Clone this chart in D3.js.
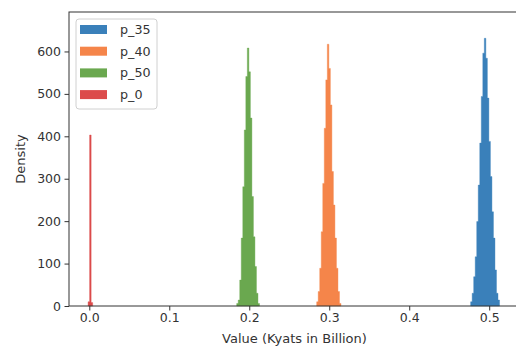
<!DOCTYPE html>
<html>
<head>
<meta charset="utf-8">
<script src="https://cdn.jsdelivr.net/npm/d3@7"></script>
<style>
  body { margin: 0; background: #fff; }
  svg { display: block; font-family: "DejaVu Sans", sans-serif; }
</style>
</head>
<body>
<div id="chart"></div>
<script>
// series names, in drawing order
var seriesNames = ["p_35", "p_40", "p_50", "p_0"];
var seriesColors = ["#3a80ba", "#f5854a", "#6aa84f", "#dc4b4b"];

// histogram bins: left edge of first bin, shared bin width, density per bin
var binWidth = 0.0019;
var p35Start = 0.4768;
var p35Density = [10, 30, 69, 116, 199, 285, 384, 494, 596, 631, 584, 490, 388, 305, 222, 160, 85, 30, 14];
var p40Start = 0.2843;
var p40Density = [10, 34, 89, 175, 289, 419, 533, 617, 560, 474, 317, 238, 160, 89, 34, 6];
var p50Start = 0.1843;
var p50Density = [6, 14, 61, 160, 281, 415, 541, 608, 552, 443, 258, 163, 93, 30, 6];
var p0Start = -0.0015;
var p0Density = [10, 403, 8];

var xTicks = [0.0, 0.1, 0.2, 0.3, 0.4, 0.5];
var yTicks = [0, 100, 200, 300, 400, 500, 600];

var w = 516, h = 349;
// plot area (right spine falls just outside the window)
var pLeft = 69, pTop = 12, pRight = 520, pBottom = 306;

var xScale = d3.scaleLinear().domain([-0.02538, 0.5385]).range([pLeft, pRight]);
var yScale = d3.scaleLinear().domain([0, 693]).range([pBottom, pTop]);

var svg = d3.select("#chart").append("svg")
    .attr("width", w)
    .attr("height", h);

var series = [
    { name: seriesNames[0], color: seriesColors[0], start: p35Start, vals: p35Density },
    { name: seriesNames[1], color: seriesColors[1], start: p40Start, vals: p40Density },
    { name: seriesNames[2], color: seriesColors[2], start: p50Start, vals: p50Density },
    { name: seriesNames[3], color: seriesColors[3], start: p0Start, vals: p0Density }
];

// each histogram as one filled step outline (no seams between bins)
var area = d3.area()
    .curve(d3.curveStepAfter)
    .x(function(d) { return xScale(d.x); })
    .y0(yScale(0))
    .y1(function(d) { return yScale(d.v); });

series.forEach(function(s) {
    var pts = s.vals.map(function(v, i) {
        return { x: s.start + i * binWidth, v: v };
    });
    pts.push({ x: s.start + s.vals.length * binWidth, v: 0 });
    svg.append("path")
        .datum(pts)
        .attr("d", area)
        .style("fill", s.color)
        .style("stroke", s.color)
        .style("stroke-width", 0.4);
});

// axes
var xAxis = d3.axisBottom(xScale)
    .tickValues(xTicks)
    .tickFormat(d3.format(".1f"))
    .tickSizeInner(4.5)
    .tickSizeOuter(0)
    .tickPadding(3);

var yAxis = d3.axisLeft(yScale)
    .tickValues(yTicks)
    .tickFormat(d3.format("d"))
    .tickSizeInner(4.5)
    .tickSizeOuter(0)
    .tickPadding(3.5);

var gx = svg.append("g")
    .attr("transform", "translate(0," + pBottom + ")")
    .call(xAxis);
var gy = svg.append("g")
    .attr("transform", "translate(" + pLeft + ",0)")
    .call(yAxis);

[gx, gy].forEach(function(g) {
    g.select(".domain").remove();
    g.selectAll(".tick line").attr("stroke", "#333");
    g.selectAll(".tick text")
        .attr("fill", "#333")
        .style("font-size", "12.5px")
        .style("font-family", "DejaVu Sans, sans-serif");
});

// spines
svg.append("rect")
    .attr("x", pLeft)
    .attr("y", pTop)
    .attr("width", pRight - pLeft)
    .attr("height", pBottom - pTop)
    .attr("fill", "none")
    .attr("stroke", "#333")
    .attr("stroke-width", 1);

// axis labels
svg.append("text")
    .attr("x", (pLeft + pRight) / 2)
    .attr("y", 343)
    .attr("text-anchor", "middle")
    .attr("fill", "#333")
    .style("font-size", "13px")
    .text("Value (Kyats in Billion)");

svg.append("text")
    .attr("transform", "translate(25," + ((pTop + pBottom) / 2) + ") rotate(-90)")
    .attr("text-anchor", "middle")
    .attr("fill", "#333")
    .style("font-size", "13px")
    .text("Density");

// legend
var legend = svg.append("g");
legend.append("rect")
    .attr("x", 76)
    .attr("y", 19)
    .attr("width", 81)
    .attr("height", 90)
    .attr("rx", 3)
    .attr("fill", "#fff")
    .attr("fill-opacity", 0.8)
    .attr("stroke", "#d0d0d0");

var items = legend.selectAll("g.item")
    .data(series)
    .enter()
    .append("g")
    .attr("class", "item")
    .attr("transform", function(d, i) { return "translate(0," + (29.5 + i * 21.7) + ")"; });

items.append("rect")
    .attr("x", 80)
    .attr("y", -4.5)
    .attr("width", 27)
    .attr("height", 9)
    .style("fill", function(d) { return d.color; });

items.append("text")
    .attr("x", 120)
    .attr("dy", "0.35em")
    .attr("fill", "#333")
    .style("font-size", "12.7px")
    .text(function(d) { return d.name; });
</script>
</body>
</html>
